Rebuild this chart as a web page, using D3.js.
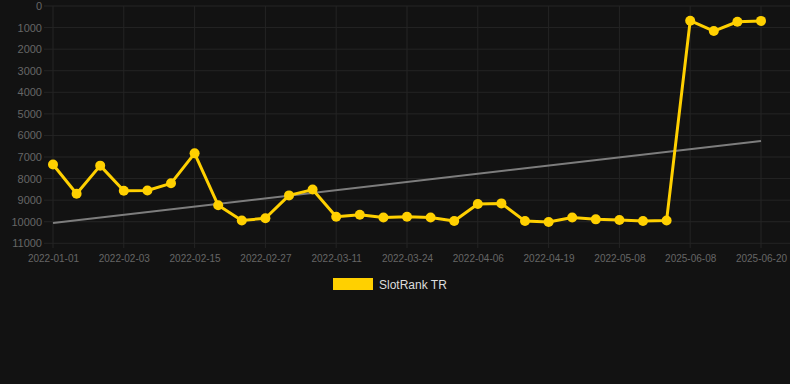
<!DOCTYPE html>
<html>
<head>
<meta charset="utf-8">
<script src="https://cdn.jsdelivr.net/npm/d3@7"></script>
<style>
  html, body { margin: 0; padding: 0; background: #121212; }
  svg { display: block; font-family: "Liberation Sans", Arial, sans-serif; }
</style>
</head>
<body>
<script>
const width = 790;
const height = 384;
const margin = {top: 6, right: 29, bottom: 141, left: 53};

// tick labels shown on the x axis (every third point)
const tickLabels = ['2022-01-01', '2022-02-03', '2022-02-15', '2022-02-27', '2022-03-11',
  '2022-03-24', '2022-04-06', '2022-04-19', '2022-05-08', '2025-06-08', '2025-06-20'];

// SlotRank TR rank values, one per point
const rankValues = [7350, 8700, 7400, 8560, 8550, 8220, 6830, 9240, 9940, 9840,
  8780, 8510, 9770, 9680, 9800, 9770, 9800, 9970, 9180, 9150,
  9970, 10010, 9800, 9890, 9920, 9970, 9940, 680, 1160, 730, 690];

// trend line values at first and last point
const trendValues = [10060, 6260];

const yTicks = d3.range(0, 11001, 1000);

const seriesName = 'SlotRank TR';
const yellow = '#FFD000';

const n = rankValues.length;
const x = d3.scaleLinear()
  .domain([0, n - 1])
  .range([margin.left, width - margin.right]);

const y = d3.scaleLinear()
  .domain([0, 11000])
  .range([margin.top, 243.3]);

const svg = d3.select('body').append('svg')
  .attr('width', width)
  .attr('height', height);

// grid
const tickIdx = tickLabels.map((d, i) => i * 3);
svg.append('g')
  .selectAll('line')
  .data(yTicks)
  .join('line')
  .attr('x1', 44)
  .attr('x2', width)
  .attr('y1', d => y(d))
  .attr('y2', d => y(d))
  .attr('stroke', '#242424')
  .attr('stroke-width', 1);

svg.append('g')
  .selectAll('line')
  .data(tickIdx)
  .join('line')
  .attr('x1', d => x(d))
  .attr('x2', d => x(d))
  .attr('y1', margin.top)
  .attr('y2', 248)
  .attr('stroke', '#242424')
  .attr('stroke-width', 1);

// y axis
const yAxis = g => g
  .attr('transform', `translate(${44},0)`)
  .call(d3.axisLeft(y).tickValues(yTicks).tickSize(0).tickPadding(2).tickFormat(d3.format('d')))
  .call(g => g.select('.domain').remove())
  .call(g => g.selectAll('text').attr('fill', '#666').attr('font-size', '11px'));

// x axis
const xAxis = g => g
  .attr('transform', `translate(0,${248})`)
  .call(d3.axisBottom(x).tickValues(tickIdx).tickSize(0).tickPadding(7)
    .tickFormat((d, i) => tickLabels[i]))
  .call(g => g.select('.domain').remove())
  .call(g => g.selectAll('text').attr('fill', '#666').attr('font-size', '10px'));

svg.append('g').call(yAxis).attr('font-family', null);
svg.append('g').call(xAxis).attr('font-family', null);

// trend line
svg.append('line')
  .attr('x1', x(0))
  .attr('x2', x(n - 1))
  .attr('y1', y(trendValues[0]))
  .attr('y2', y(trendValues[1]))
  .attr('stroke', '#7d7d7d')
  .attr('stroke-width', 2);

// series
const line = d3.line()
  .x((d, i) => x(i))
  .y(d => y(d));

svg.append('path')
  .datum(rankValues)
  .attr('fill', 'none')
  .attr('stroke', yellow)
  .attr('stroke-width', 3)
  .attr('stroke-linejoin', 'round')
  .attr('d', line);

svg.append('g')
  .selectAll('circle')
  .data(rankValues)
  .join('circle')
  .attr('cx', (d, i) => x(i))
  .attr('cy', d => y(d))
  .attr('r', 5)
  .attr('fill', yellow);

// legend
const legend = svg.append('g').attr('transform', 'translate(333,278)');
legend.append('rect')
  .attr('width', 40)
  .attr('height', 12)
  .attr('fill', yellow);
legend.append('text')
  .attr('x', 46)
  .attr('y', 10.5)
  .attr('fill', '#dddddd')
  .attr('font-size', '12px')
  .text(seriesName);
</script>
</body>
</html>
